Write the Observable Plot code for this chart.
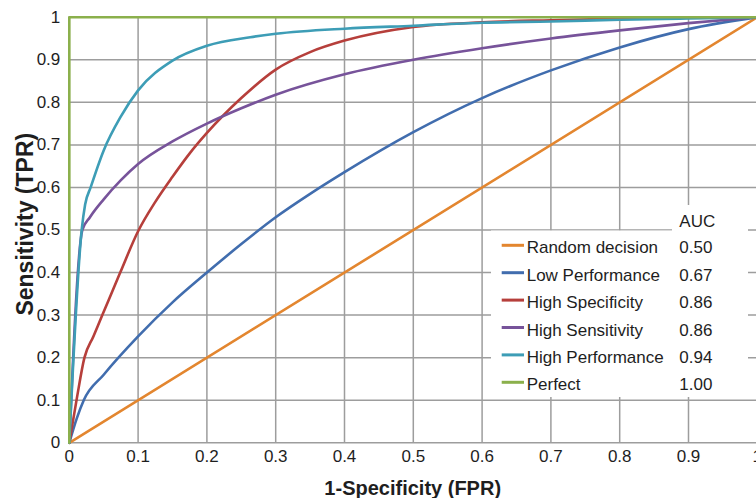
<!DOCTYPE html>
<html><head><meta charset="utf-8">
<script src="https://cdn.jsdelivr.net/npm/d3@7"></script>
<script src="https://cdn.jsdelivr.net/npm/@observablehq/plot@0.6"></script>
<style>
html,body{margin:0;padding:0;background:#fff;overflow:hidden;}
#chart{position:relative;width:756px;height:498px;overflow:hidden;}
</style></head><body><div id="chart"></div>
<script>
// ---- data ----
const seriesNames = ["Random decision","Low Performance","High Specificity","High Sensitivity","High Performance","Perfect"];
const aucValues = ["0.50","0.67","0.86","0.86","0.94","1.00"];
const seriesColors = ["#e3862f","#416dae","#b63f3b","#77539a","#3d9db6","#8bb04c"];

const randomFPR = [0, 1];
const randomTPR = [0, 1];

const lowFPR = [0, 0.011, 0.021, 0.05, 0.1, 0.15, 0.2, 0.25, 0.3, 0.35, 0.4, 0.5, 0.6, 0.7, 0.8, 0.9, 1];
const lowTPR = [0, 0.058, 0.1, 0.16, 0.25, 0.33, 0.40, 0.467, 0.53, 0.585, 0.636, 0.73, 0.81, 0.875, 0.929, 0.972, 1];

const specFPR = [0, 0.011, 0.022, 0.035, 0.048, 0.074, 0.1, 0.125, 0.15, 0.175, 0.2, 0.25, 0.3, 0.35, 0.4, 0.5, 0.6, 0.7, 0.8, 0.9, 1];
const specTPR = [0, 0.105, 0.2, 0.25, 0.3, 0.4, 0.497, 0.566, 0.625, 0.68, 0.728, 0.81, 0.877, 0.918, 0.945, 0.977, 0.988, 0.993, 0.997, 0.999, 1];

const sensFPR = [0, 0.019, 0.03, 0.05, 0.075, 0.1, 0.15, 0.2, 0.25, 0.3, 0.4, 0.5, 0.6, 0.7, 0.8, 0.9, 1];
const sensTPR = [0, 0.5, 0.53, 0.572, 0.617, 0.655, 0.708, 0.75, 0.786, 0.818, 0.866, 0.9, 0.927, 0.95, 0.969, 0.986, 1];

const perfFPR = [0, 0.018, 0.023, 0.031, 0.05, 0.075, 0.1, 0.15, 0.2, 0.263, 0.3, 0.4, 0.5, 0.6, 0.7, 0.8, 0.9, 1];
const perfTPR = [0, 0.5, 0.56, 0.6, 0.687, 0.767, 0.828, 0.898, 0.933, 0.953, 0.961, 0.973, 0.98, 0.987, 0.99, 0.994, 0.997, 1];

const perfectFPR = [0, 0, 1];
const perfectTPR = [0, 1, 1];

const xTicks = [0,0.1,0.2,0.3,0.4,0.5,0.6,0.7,0.8,0.9,1];
const yTicks = [0,0.1,0.2,0.3,0.4,0.5,0.6,0.7,0.8,0.9,1];
const xTickLabels = ["0","0.1","0.2","0.3","0.4","0.5","0.6","0.7","0.8","0.9","1"];
const yTickLabels = ["0","0.1","0.2","0.3","0.4","0.5","0.6","0.7","0.8","0.9","1"];
const xTitle = "1-Specificity (FPR)";
const yTitle = "Sensitivity (TPR)";
const aucTitle = "AUC";

// ---- build ----
const allX = [randomFPR, lowFPR, specFPR, sensFPR, perfFPR, perfectFPR];
const allY = [randomTPR, lowTPR, specTPR, sensTPR, perfTPR, perfectTPR];
const rows = seriesNames.map((name, i) => allX[i].map((x, j) => ({series: name, fpr: x, tpr: allY[i][j]})));

const font = "'Liberation Sans', Arial, Helvetica, sans-serif";
const lw = 2.6;
const lineMark = (i, curve) => Plot.line(rows[i], {x: "fpr", y: "tpr", stroke: seriesColors[i], strokeWidth: lw, curve});

const chart = Plot.plot({
  width: 756, height: 498,
  marginLeft: 68.8, marginRight: -0.8, marginTop: 16.7, marginBottom: 55.7,
  style: {fontFamily: font, fontSize: "17px", color: "#1e1e1e", background: "white", overflow: "visible"},
  x: {domain: [0, 1], label: null},
  y: {domain: [0, 1], label: null},
  marks: [
    Plot.gridX(xTicks, {stroke: "#9d9d9d", strokeOpacity: 1, strokeWidth: 1.5}),
    Plot.gridY(yTicks, {stroke: "#9d9d9d", strokeOpacity: 1, strokeWidth: 1.5}),
    Plot.axisX(xTicks, {tickSize: 0, tickPadding: 7, tickFormat: (d, i) => xTickLabels[i], fontSize: 17, label: null}),
    Plot.axisY(yTicks, {tickSize: 0, tickPadding: 9, tickFormat: (d, i) => yTickLabels[i], fontSize: 17, label: null}),
    lineMark(0, "linear"),
    lineMark(1, "monotone-x"),
    lineMark(2, "monotone-x"),
    lineMark(3, "monotone-x"),
    lineMark(4, "monotone-x"),
    lineMark(5, "linear")
  ]
});

const svg = d3.select(chart);
// axis titles
svg.append("text").attr("x", 412.7).attr("y", 495).attr("text-anchor", "middle")
  .attr("font-family", font).attr("font-weight", "bold").attr("font-size", 20).attr("fill", "#1e1e1e").text(xTitle);
svg.append("text").attr("transform", "translate(33.3,224.2) rotate(-90)").attr("text-anchor", "middle")
  .attr("font-family", font).attr("font-weight", "bold").attr("font-size", 23).attr("fill", "#1e1e1e").text(yTitle);

// legend
const lg = svg.append("g").attr("font-family", font).attr("font-size", 17).attr("fill", "#1e1e1e").attr("text-anchor", "start");
lg.append("rect").attr("x", 491).attr("y", 230.5).attr("width", 257).attr("height", 166.5).attr("fill", "white");
lg.append("rect").attr("x", 672).attr("y", 205).attr("width", 76).attr("height", 26).attr("fill", "white");
lg.append("text").attr("x", 679.3).attr("y", 226.7).attr("text-anchor", "start").text(aucTitle);
seriesNames.forEach((name, i) => {
  const cy = 245.3 + i * 27.4;
  lg.append("line").attr("x1", 501.7).attr("x2", 524).attr("y1", cy).attr("y2", cy)
    .attr("stroke", seriesColors[i]).attr("stroke-width", 3);
  lg.append("text").attr("x", 526.7).attr("y", cy + 8).attr("text-anchor", "start").text(name);
  lg.append("text").attr("x", 679.3).attr("y", cy + 8).attr("text-anchor", "start").text(aucValues[i]);
});

document.getElementById("chart").appendChild(chart);
</script></body></html>
